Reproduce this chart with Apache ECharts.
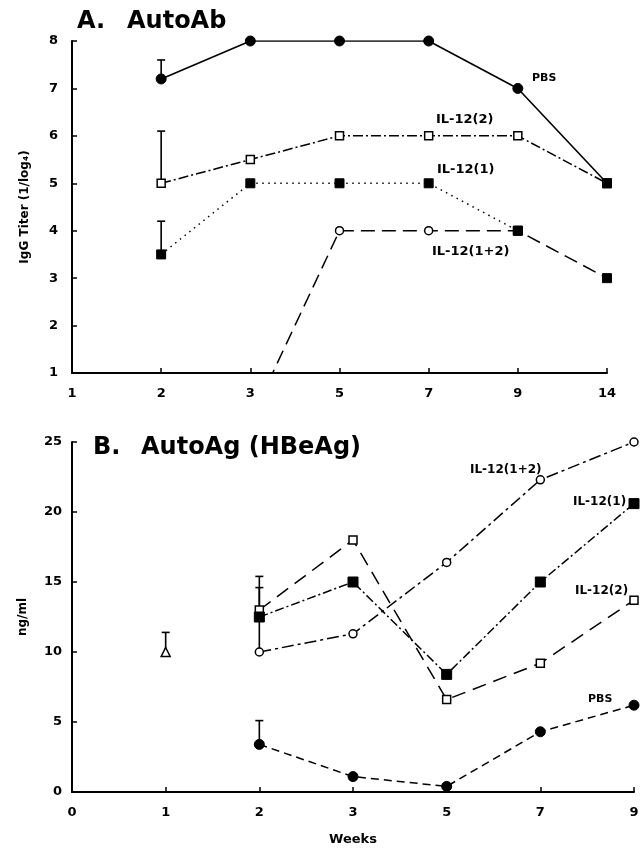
<!DOCTYPE html>
<html><head><meta charset="utf-8">
<script src="https://cdn.jsdelivr.net/npm/echarts@6/dist/echarts.min.js"></script>
<style>html,body{margin:0;padding:0;background:#fff}#c{width:643px;height:850px}</style>
</head><body><div id="c"></div>
<script>
// ---- Data: panel A (AutoAb, IgG titer 1/log4) ----
const weeksA = ['1','2','3','5','7','9','14'];
const pbsA    = [null, 7.2, 8,   8, 8, 7, 5];
const il12_2A = [null, 5,   5.5, 6, 6, 6, 5];
const il12_1A = [null, 3.5, 5,   5, 5, 4, null];
const il12_12A= [null, null, 0,  4, 4, 4, 3];
const errA = [['2', 7.2, 7.6], ['2', 5, 6.1], ['2', 3.5, 4.2]];
const yTicksA = [1, 8, 1];

// ---- Data: panel B (AutoAg HBeAg, ng/ml) ----
const weeksB = ['0','1','2','3','5','7','9'];
const pbsB    = [null, null, 3.4, 1.1, 0.4, 4.3, 6.2];
const il12_2B = [null, null, 13,  18,  6.6, 9.2, 13.7];
const il12_1B = [null, null, 12.5, 15, 8.4, 15,  20.6];
const il12_12B= [null, null, 10,  11.3, 16.4, 22.3, 25];
const ctrlB   = [null, 10, null, null, null, null, null];
const errB = [['1', 10, 11.4], ['2', 3.4, 5.1], ['2', 10, 15.4], ['2', 12.5, 14.6]];
const yTicksB = [0, 25, 5];

const FONT = 'DejaVu Sans';
const chart = echarts.init(document.getElementById('c'));

const filled = {color:'#000', borderColor:'#000', borderWidth:1};
const open = {color:'#fff', borderColor:'#000', borderWidth:1.5};

function withOverrides(arr, overrides){
  return arr.map((v,i)=> overrides[i] ? Object.assign({value:v}, overrides[i]) : v);
}
function lineSeries(name, data, xi, dash, symbol, size, style, lw){
  return {type:'line', name, data, xAxisIndex:xi, yAxisIndex:xi, symbol, symbolSize:size,
    itemStyle:style, lineStyle:{color:'#000', width:lw||1.5, type:dash}, showSymbol:true,
    clip:true, connectNulls:false, animation:false, z:3};
}
function errSeries(data, xi){
  return {type:'custom', xAxisIndex:xi, yAxisIndex:xi, data, z:2, animation:false,
    encode:{x:0, y:[1,2]},
    renderItem:function(params, api){
      const x = api.value(0), lo = api.value(1), hi = api.value(2);
      const p1 = api.coord([x, lo]), p2 = api.coord([x, hi]);
      return {type:'group', children:[
        {type:'line', shape:{x1:p1[0],y1:p1[1],x2:p2[0],y2:p2[1]}, style:{stroke:'#000', lineWidth:1.6}},
        {type:'line', shape:{x1:p2[0]-4,y1:p2[1],x2:p2[0]+4,y2:p2[1]}, style:{stroke:'#000', lineWidth:1.6}}
      ]};
    }};
}
const sqFilled = {symbol:'rect', symbolSize:9, itemStyle:filled};

function axisCommon(margin){
  return {
    axisLine:{show:true, onZero:false, lineStyle:{color:'#000', width:2}},
    axisTick:{show:true, inside:true, length:5, lineStyle:{color:'#000', width:1.5}},
    axisLabel:{color:'#000', fontFamily:FONT, fontWeight:'bold', fontSize:13, margin:margin},
    splitLine:{show:false}
  };
}
const nameStyle = (s)=>({color:'#000', fontFamily:FONT, fontWeight:'bold', fontSize:s});

const option = {
  backgroundColor:'#fff',
  animation:false,
  grid:[
    {left:72, top:41, width:535, height:332},
    {left:72, top:442, width:562, height:350}
  ],
  xAxis:[
    Object.assign({type:'category', gridIndex:0, data:weeksA, boundaryGap:false}, axisCommon(14)),
    Object.assign({type:'category', gridIndex:1, data:weeksB, boundaryGap:false, name:'Weeks', nameLocation:'middle', nameGap:41,
      nameTextStyle:nameStyle(13)}, axisCommon(14))
  ],
  yAxis:[
    Object.assign({type:'value', gridIndex:0, min:yTicksA[0], max:yTicksA[1], interval:yTicksA[2],
      name:'IgG Titer (1/log\u2084)', nameLocation:'middle', nameGap:41, nameTextStyle:nameStyle(12)}, axisCommon(14)),
    Object.assign({type:'value', gridIndex:1, min:yTicksB[0], max:yTicksB[1], interval:yTicksB[2],
      name:'ng/ml', nameLocation:'middle', nameGap:43, nameTextStyle:nameStyle(12)}, axisCommon(10))
  ],
  series:[
    errSeries(errA, 0),
    lineSeries('PBS', withOverrides(pbsA, {6:sqFilled}), 0, 'solid', 'circle', 10, filled, 1.6),
    lineSeries('IL-12(2)', withOverrides(il12_2A, {6:sqFilled}), 0, [10,3,2,3], 'rect', 8, open),
    lineSeries('IL-12(1)', il12_1A, 0, [1.5,4.5], 'rect', 9, filled),
    lineSeries('IL-12(1+2)', withOverrides(il12_12A, {2:{symbol:'none'}, 5:sqFilled, 6:sqFilled}), 0, [14,7], 'circle', 8, open),

    errSeries(errB, 1),
    lineSeries('PBS', pbsB, 1, [8,5], 'circle', 10, filled),
    lineSeries('IL-12(2)', il12_2B, 1, [14,8], 'rect', 8, open),
    lineSeries('IL-12(1)', il12_1B, 1, [9,3,2,3], 'rect', 10, filled),
    lineSeries('IL-12(1+2)', il12_12B, 1, [12,4,3,4], 'circle', 8, open),
    lineSeries('control', ctrlB, 1, 'solid', 'triangle', 9, open)
  ],
  graphic:[
    {type:'text', left:77, top:10, style:{text:'A.', font:'bold 24px "DejaVu Sans"', fill:'#000'}},
    {type:'text', left:127, top:10, style:{text:'AutoAb', font:'bold 24px "DejaVu Sans"', fill:'#000'}},
    {type:'text', left:93, top:436, style:{text:'B.', font:'bold 24px "DejaVu Sans"', fill:'#000'}},
    {type:'text', left:141, top:436, style:{text:'AutoAg (HBeAg)', font:'bold 24px "DejaVu Sans"', fill:'#000'}},
    {type:'text', left:532, top:73, style:{text:'PBS', font:'bold 11px "DejaVu Sans"', fill:'#000'}},
    {type:'text', left:436, top:113, style:{text:'IL-12(2)', font:'bold 13px "DejaVu Sans"', fill:'#000'}},
    {type:'text', left:437, top:163, style:{text:'IL-12(1)', font:'bold 13px "DejaVu Sans"', fill:'#000'}},
    {type:'text', left:432, top:245, style:{text:'IL-12(1+2)', font:'bold 13px "DejaVu Sans"', fill:'#000'}},
    {type:'text', left:470, top:464, style:{text:'IL-12(1+2)', font:'bold 12px "DejaVu Sans"', fill:'#000'}},
    {type:'text', left:573, top:496, style:{text:'IL-12(1)', font:'bold 12px "DejaVu Sans"', fill:'#000'}},
    {type:'text', left:575, top:585, style:{text:'IL-12(2)', font:'bold 12px "DejaVu Sans"', fill:'#000'}},
    {type:'text', left:588, top:694, style:{text:'PBS', font:'bold 11px "DejaVu Sans"', fill:'#000'}}
  ]
};
chart.setOption(option);
</script>
</body></html>
